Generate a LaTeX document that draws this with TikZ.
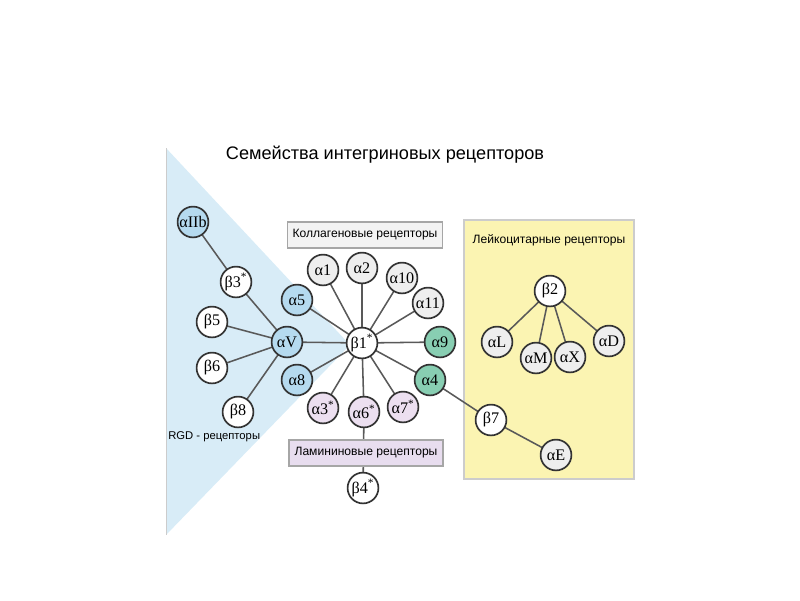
\documentclass[tikz,border=0pt]{standalone}
\usepackage{fontspec}
\setmainfont{Liberation Serif}
\newfontfamily\capfont{Liberation Sans}
\definecolor{rgdblue}{HTML}{D8ECF7}
\definecolor{nodeblue}{HTML}{B5DAEF}
\definecolor{nodegreen}{HTML}{88CEB2}
\definecolor{nodepink}{HTML}{ECDFF0}
\definecolor{nodegray}{HTML}{EEEEEE}
\definecolor{leukoyellow}{HTML}{FBF4B2}
\definecolor{lamlilac}{HTML}{E8DDEF}
\tikzset{
  rec/.style={circle, draw=black!80, line width=1.2pt, fill=white, minimum size=0.77cm,
    inner sep=0pt, font=\fontsize{11.5}{12}\selectfont},
  link/.style={draw=black!65, line width=1.1pt},
  caption/.style={font=\capfont\fontsize{8.6}{10}\selectfont},
  capbox/.style={caption, draw=black!35, line width=0.8pt, minimum width=3.85cm, minimum height=0.65cm},
}
\newcommand{\st}{\textsuperscript{*}}
\begin{document}
\begin{tikzpicture}[x=0.025cm, y=-0.025cm]
  \useasboundingbox (0,0) rectangle (800,600);
  % backgrounds
  \fill[rgdblue] (166,148) -- (350,345) -- (166,535) -- cycle;
  \draw[black!20, line width=0.6pt] (166,148) -- (166,535);
  \fill[leukoyellow] (464,220) rectangle (634,479);
  \draw[black!20, line width=0.8pt] (464,220) rectangle (634,479);

  \node[font=\capfont\fontsize{12.9}{14}\selectfont] (title) at (385,155) {Семейства интегриновых рецепторов};
  \node[caption, font=\capfont\fontsize{8}{10}\selectfont, anchor=west, inner sep=0pt] (rgd) at (168,437) {RGD - рецепторы};
  \node[caption] (leuko) at (549,240) {Лейкоцитарные рецепторы};

  % receptor positions
  \coordinate (b1) at (362,343);
  \coordinate (a1) at (323,270);
  \coordinate (a2) at (362,268);
  \coordinate (a10) at (402,278);
  \coordinate (a11) at (428,303);
  \coordinate (a9) at (440,342);
  \coordinate (a4) at (430,380);
  \coordinate (a7) at (403,407);
  \coordinate (a6) at (364,412);
  \coordinate (a3) at (323,408);
  \coordinate (a8) at (297,380);
  \coordinate (aV) at (287,342);
  \coordinate (a5) at (297,300);
  \coordinate (b3) at (236,282);
  \coordinate (aIIb) at (193,222);
  \coordinate (b5) at (212,322);
  \coordinate (b6) at (212,368);
  \coordinate (b8) at (238,412);
  \coordinate (b4) at (363,488);
  \coordinate (b7) at (491,420);
  \coordinate (aE) at (556,455);
  \coordinate (b2) at (550,291);
  \coordinate (aL) at (497,342);
  \coordinate (aM) at (536,358);
  \coordinate (aX) at (570,357);
  \coordinate (aD) at (609,341);

  % links
  \foreach \n in {a1,a2,a10,a11,a9,a4,a7,a6,a3,a8,aV,a5}
    \draw[link] (b1) -- (\n);
  \foreach \n in {b3,b5,b6,b8}
    \draw[link] (aV) -- (\n);
  \draw[link] (b3) -- (aIIb);
  \draw[link] (a6) -- (b4);
  \draw[link] (a4) -- (b7);
  \draw[link] (b7) -- (aE);
  \foreach \n in {aL,aM,aX,aD}
    \draw[link] (b2) -- (\n);

  \node[capbox, fill=nodegray!70] (coll) at (365,235) {Коллагеновые рецепторы};
  \node[capbox, fill=lamlilac] (lam) at (366,453) {Ламининовые рецепторы};

  % receptors
  \node[rec] (nb1) at (b1) {β1\st};
  \node[rec, fill=nodegray] (na1) at (a1) {α1};
  \node[rec, fill=nodegray] (na2) at (a2) {α2};
  \node[rec, fill=nodegray] (na10) at (a10) {α10};
  \node[rec, fill=nodegray] (na11) at (a11) {α11};
  \node[rec, fill=nodegreen] (na9) at (a9) {α9};
  \node[rec, fill=nodegreen] (na4) at (a4) {α4};
  \node[rec, fill=nodepink] (na7) at (a7) {α7\st};
  \node[rec, fill=nodepink] (na6) at (a6) {α6\st};
  \node[rec, fill=nodepink] (na3) at (a3) {α3\st};
  \node[rec, fill=nodeblue] (na8) at (a8) {α8};
  \node[rec, fill=nodeblue] (naV) at (aV) {αV};
  \node[rec, fill=nodeblue] (na5) at (a5) {α5};
  \node[rec, fill=nodeblue] (naIIb) at (aIIb) {αIIb};
  \node[rec] (nb3) at (b3) {β3\st};
  \node[rec] (nb5) at (b5) {β5};
  \node[rec] (nb6) at (b6) {β6};
  \node[rec] (nb8) at (b8) {β8};
  \node[rec] (nb4) at (b4) {β4\st};
  \node[rec] (nb7) at (b7) {β7};
  \node[rec, fill=nodegray] (naE) at (aE) {αE};
  \node[rec] (nb2) at (b2) {β2};
  \node[rec, fill=nodegray] (naL) at (aL) {αL};
  \node[rec, fill=nodegray] (naM) at (aM) {αM};
  \node[rec, fill=nodegray] (naX) at (aX) {αX};
  \node[rec, fill=nodegray] (naD) at (aD) {αD};
\end{tikzpicture}
\end{document}
